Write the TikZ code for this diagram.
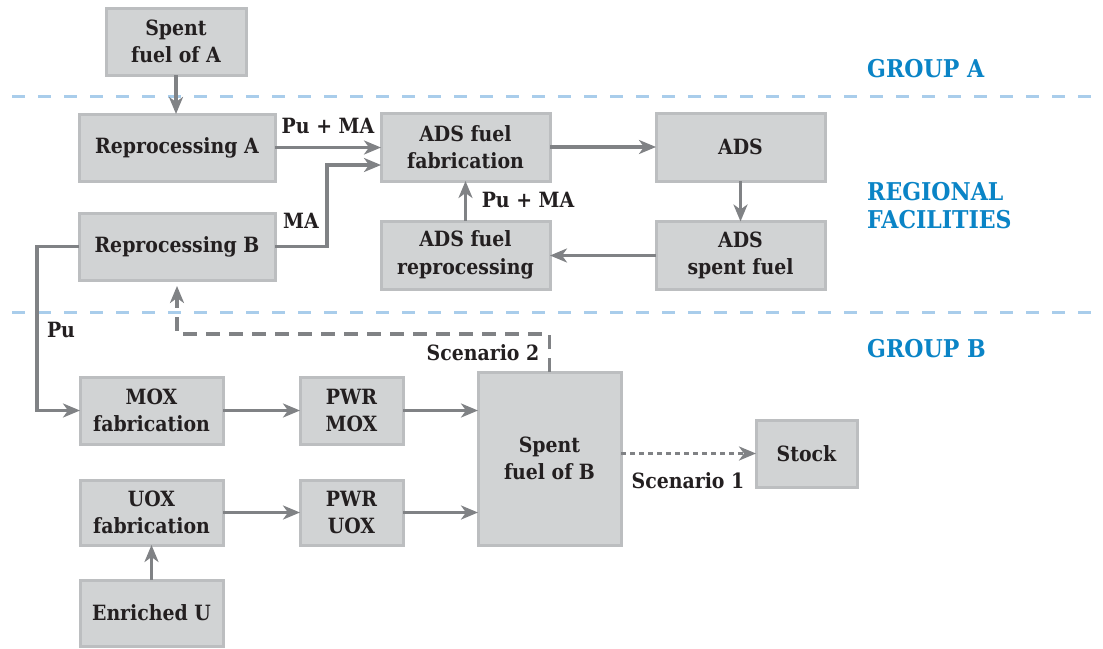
\documentclass[tikz,border=0pt]{standalone}
\usepackage{fontspec}
\setmainfont{DejaVu Serif Condensed}
\usetikzlibrary{arrows.meta}
\definecolor{boxfill}{HTML}{D1D3D4}
\definecolor{boxline}{HTML}{BCBEC0}
\definecolor{flow}{HTML}{808285}
\definecolor{ink}{HTML}{231F20}
\definecolor{zone}{HTML}{0A84C6}
\definecolor{zoneline}{HTML}{A9CDEB}
\tikzset{
  x=1pt, y=-1pt,
  stage/.style={draw=boxline, line width=3pt, fill=boxfill, inner sep=0pt, outer sep=0pt,
    align=center, text=ink, font=\bfseries\fontsize{21}{27.5}\selectfont},
  flowarr/.style={draw=flow, line width=3.3pt,
    -{Stealth[length=17pt,width=14pt,inset=5pt]}},
  dasharr/.style={flowarr, dash pattern=on 14pt off 9pt},
  dotarr/.style={flowarr, dash pattern=on 5pt off 4pt},
  flowlabel/.style={text=ink, font=\bfseries\fontsize{21}{27}\selectfont, inner sep=0pt, anchor=base},
  zonelabel/.style={text=zone, font=\bfseries\fontsize{24.5}{28}\selectfont, inner sep=0pt, anchor=base west},
  divider/.style={draw=zoneline, line width=3pt, dash pattern=on 13pt off 13pt}
}
\begin{document}
\begin{tikzpicture}
\useasboundingbox (0,0) rectangle (1103,648);

% zone dividers
\coordinate (d1a) at (12,96);
\coordinate (d1b) at (1103,96);
\coordinate (d2a) at (12,312);
\coordinate (d2b) at (1103,312);
\draw[divider] (d1a) -- (d1b);
\draw[divider] (d2a) -- (d2b);

% zone labels
\node[zonelabel] (gA) at (867,77) {GROUP A};
\node[zonelabel] (rf1) at (867,200) {REGIONAL};
\node[zonelabel] (rf2) at (867,228) {FACILITIES};
\node[zonelabel] (gB) at (867,357) {GROUP B};

% stages
\node[stage, minimum width=140pt, minimum height=67pt] (sfA) at (176,41.5) {Spent\\fuel of A};
\node[stage, minimum width=196pt, minimum height=67pt] (repA) at (177,147.5) {Reprocessing A};
\node[stage, minimum width=169pt, minimum height=68pt] (adsfab) at (465.5,147) {ADS fuel\\fabrication};
\node[stage, minimum width=169pt, minimum height=68pt] (ads) at (740.5,147) {ADS};
\node[stage, minimum width=196pt, minimum height=67pt] (repB) at (177,246.5) {Reprocessing B};
\node[stage, minimum width=169pt, minimum height=68pt] (adsrep) at (465.5,255) {ADS fuel\\reprocessing};
\node[stage, minimum width=169pt, minimum height=68pt] (adsspent) at (740.5,255.5) {ADS\\spent fuel};
\node[stage, minimum width=143pt, minimum height=67pt] (mox) at (151.5,410.5) {MOX\\fabrication};
\node[stage, minimum width=103pt, minimum height=67pt] (pwrmox) at (351.5,410.5) {PWR\\MOX};
\node[stage, minimum width=143pt, minimum height=173pt] (sfB) at (549.5,458.5) {Spent\\fuel of B};
\node[stage, minimum width=101pt, minimum height=67pt] (stock) at (806.5,453.5) {Stock};
\node[stage, minimum width=143pt, minimum height=65pt] (uox) at (151.5,512.5) {UOX\\fabrication};
\node[stage, minimum width=103pt, minimum height=65pt] (pwruox) at (351.5,512.5) {PWR\\UOX};
\node[stage, minimum width=143pt, minimum height=66pt] (enrU) at (151.5,613) {Enriched U};

% flows in the regional facilities
\draw[flowarr] (sfA.south) -- (sfA.south |- repA.north);
\draw[flowarr] (repA.east) -- (adsfab.west |- repA.east);
\coordinate (maturn) at (327,165);
\draw[flowarr] (repB.east) -| (maturn) -- (maturn -| adsfab.west);
\draw[flowarr] (adsfab.east |- ads.west) -- (ads.west);
\draw[flowarr] (ads.south) -- (adsspent.north);
\draw[flowarr] (adsspent.west) -- (adsspent.west -| adsrep.east);
\draw[flowarr] (adsrep.north) -- (adsfab.south);

% flows in group B
\coordinate (pux) at (37,0);
\draw[flowarr] (repB.west) -- (repB.west -| pux) |- (mox.west);
\draw[flowarr] (mox.east) -- (pwrmox.west);
\draw[flowarr] (pwrmox.east) -- (pwrmox.east -| sfB.west);
\draw[flowarr] (uox.east) -- (pwruox.west);
\draw[flowarr] (pwruox.east) -- (pwruox.east -| sfB.west);
\draw[flowarr] (enrU.north) -- (uox.south);
\draw[dotarr] (sfB.east |- stock.west) -- (stock.west);
\coordinate (sc2) at (549.5,334);
\coordinate (repBin) at (177,286);
\draw[dasharr] (sfB.north) -- (sc2) -| (repBin);

% flow labels
\node[flowlabel] (l1) at (328,133) {Pu + MA};
\node[flowlabel] (l2) at (301,228) {MA};
\node[flowlabel] (l3) at (528,207) {Pu + MA};
\node[flowlabel] (l4) at (61,337) {Pu};
\node[flowlabel] (l5) at (483,360) {Scenario 2};
\node[flowlabel] (l6) at (688,488) {Scenario 1};
\end{tikzpicture}
\end{document}
